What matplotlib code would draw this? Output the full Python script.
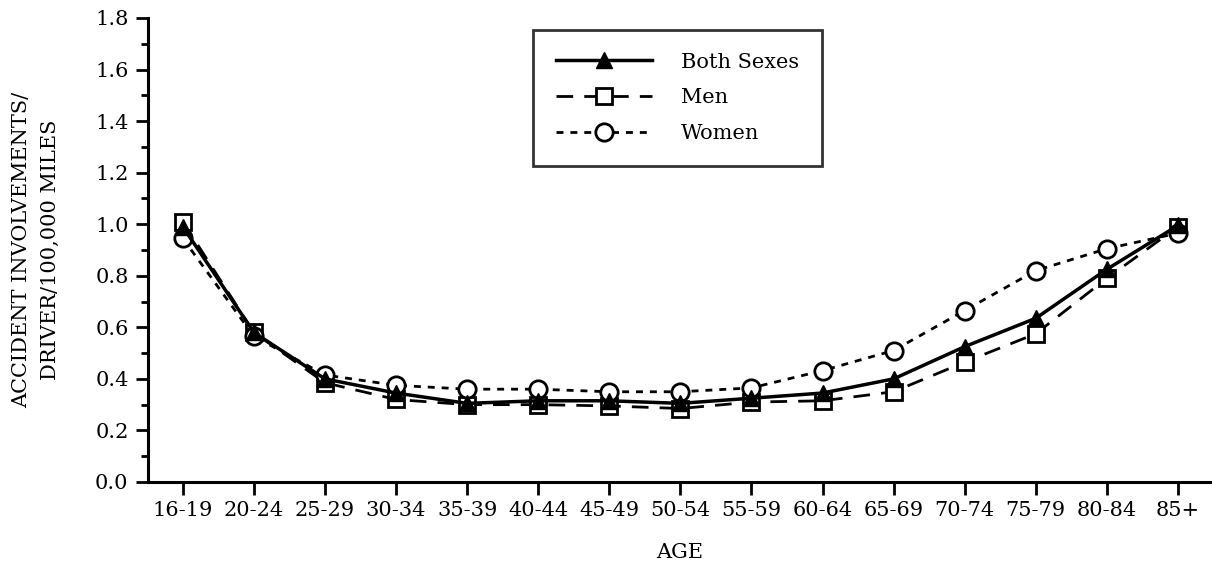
import matplotlib
matplotlib.use("Agg")
import matplotlib.pyplot as plt

plt.rcParams["font.family"] = ["DejaVu Serif"]

ages = ["16-19", "20-24", "25-29", "30-34", "35-39", "40-44", "45-49", "50-54",
        "55-59", "60-64", "65-69", "70-74", "75-79", "80-84", "85+"]

both  = [0.99, 0.58, 0.40, 0.345, 0.305, 0.315, 0.315, 0.305,
         0.325, 0.345, 0.40, 0.525, 0.635, 0.825, 0.995]
men   = [1.01, 0.58, 0.385, 0.32, 0.30, 0.30, 0.295, 0.285,
         0.31, 0.315, 0.35, 0.465, 0.575, 0.79, 0.99]
women = [0.945, 0.565, 0.415, 0.375, 0.36, 0.36, 0.35, 0.35,
         0.365, 0.432, 0.51, 0.665, 0.82, 0.905, 0.965]

fig = plt.figure(figsize=(12.12, 5.71), dpi=100)
ax = fig.add_axes([0.1221, 0.1559, 0.8779, 0.8126])

x = range(len(ages))
ax.plot(x, men, color="black", lw=2, ls=(0, (6, 4)), marker="s", ms=11,
        mfc="white", mec="black", mew=2, label="Men", zorder=3)
ax.plot(x, women, color="black", lw=2, ls=(0, (2.5, 2.5)), marker="o", ms=12.5,
        mfc="white", mec="black", mew=2, label="Women", zorder=3)
ax.plot(x, both, color="black", lw=2.5, ls="-", marker="^", ms=12,
        mfc="black", mec="black", label="Both Sexes", zorder=4)

ax.set_xlim(-0.49, 14.48)
ax.set_ylim(0, 1.8)
ax.set_xticks(list(x))
ax.set_xticklabels(ages)
ax.set_yticks([i * 0.2 for i in range(10)])
ax.set_yticks([i * 0.2 + 0.1 for i in range(9)], minor=True)
ax.yaxis.set_major_formatter(matplotlib.ticker.FormatStrFormatter("%.1f"))

for side in ["top", "right"]:
    ax.spines[side].set_visible(False)
for side in ["left", "bottom"]:
    ax.spines[side].set_linewidth(2.2)

ax.tick_params(axis="both", which="major", direction="out", length=9, width=2,
               labelsize=15, pad=5)
ax.tick_params(axis="y", which="minor", direction="out", length=5, width=2)

ax.set_xlabel("AGE", fontsize=15, labelpad=16)
ax.set_ylabel("ACCIDENT INVOLVEMENTS/\nDRIVER/100,000 MILES", fontsize=15,
              labelpad=25, linespacing=1.7)

handles, labels = ax.get_legend_handles_labels()
order = [2, 0, 1]
leg = ax.legend([handles[i] for i in order], [labels[i] for i in order],
                loc="upper left", bbox_to_anchor=(0.362, 0.975), fontsize=15,
                frameon=True, fancybox=False, handlelength=4.6, handletextpad=1.4,
                borderpad=1.1, labelspacing=0.8, borderaxespad=0)
leg.get_frame().set_edgecolor("black")
leg.get_frame().set_linewidth(2)

fig.savefig("out.png", dpi=100)
